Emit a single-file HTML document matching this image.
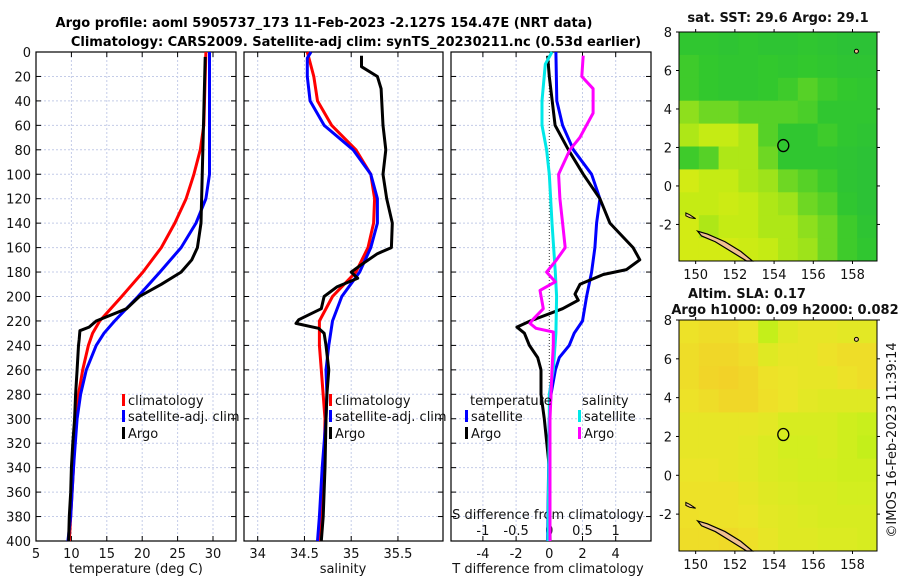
<!DOCTYPE html>
<html><head><meta charset="utf-8">
<style>
body{margin:0;background:#fff;}
svg{display:block;font-family:"DejaVu Sans","Liberation Sans",sans-serif;}
</style></head>
<body>
<svg id="fig" width="900" height="580" viewBox="0 0 900 580" xmlns="http://www.w3.org/2000/svg">
<text x="324" y="27" text-anchor="middle" font-size="13" font-weight="bold">Argo profile: aoml 5905737_173 11-Feb-2023 -2.127S 154.47E (NRT data)</text>
<text x="356" y="46" text-anchor="middle" font-size="13" font-weight="bold">Climatology: CARS2009. Satellite-adj clim: synTS_20230211.nc (0.53d earlier)</text>
<g id="g"></g>
</svg>
<script>
// ---------- data ----------
const depthTicks=[0,20,40,60,80,100,120,140,160,180,200,220,240,260,280,300,320,340,360,380,400];
const tempTicks=[5,10,15,20,25,30];
const salTicks=[34,34.5,35,35.5];
const tdiffTicks=[-4,-2,0,2,4];
const sdiffTicks=[-1,-0.5,0,0.5,1];
const sdiffLabels=["-1","-0.5","0","0.5","1"];

const climTempDepth=[0,60,80,100,120,140,160,180,200,220,230,240,260,280,300,340,380,400];
const climTemp=[29.0,28.7,28.2,27.3,26.2,24.6,22.7,20.1,17.1,14.0,13.0,12.4,11.6,11.0,10.6,10.3,9.9,9.7];
const satTempDepth=[0,100,120,140,160,180,200,220,230,240,260,280,300,340,380,400];
const satTemp=[29.5,29.5,29.0,27.6,25.5,22.5,19.4,16.1,14.6,13.5,12.1,11.3,10.8,10.3,9.9,9.5];
const argoTempDepth=[4,140,160,170,180,190,200,210,220,225,228,235,240,260,280,300,320,340,360,380,400];
const argoTemp=[28.9,28.3,27.8,27.0,25.5,22.7,19.6,17.8,13.5,12.5,11.2,11.1,11.0,10.8,10.6,10.45,10.2,10.0,9.9,9.7,9.6];

const climSalDepth=[0,20,40,60,80,100,120,140,160,180,200,220,240,260,300,340,380,400];
const climSal=[34.53,34.60,34.64,34.79,35.05,35.21,35.25,35.24,35.18,35.05,34.80,34.66,34.66,34.68,34.72,34.71,34.68,34.67];
const satSalDepth=[0,5,20,40,60,80,100,120,140,160,180,200,220,240,260,280,300,340,380,400];
const satSal=[34.57,34.53,34.53,34.56,34.71,35.02,35.21,35.28,35.28,35.21,35.09,34.90,34.80,34.76,34.73,34.74,34.73,34.69,34.66,34.64];
const argoSalDepth=[3,12,20,30,60,80,100,120,140,160,165,175,180,185,192,200,210,219,222,226,230,240,260,280,300,340,380,400];
const argoSal=[35.11,35.11,35.28,35.32,35.34,35.37,35.34,35.38,35.44,35.43,35.28,35.09,35.00,35.07,34.85,34.71,34.68,34.44,34.41,34.65,34.71,34.73,34.76,34.74,34.73,34.72,34.70,34.68];

const satTdDepth=[0,40,60,80,100,120,140,160,180,200,220,230,240,250,260,280,300,400];
const satTd=[0.4,0.45,0.8,1.45,2.55,3.05,2.85,2.75,2.55,2.25,2.0,1.5,1.2,0.6,0.37,0.1,0,-0.1];
const argoTdDepth=[3,20,60,80,100,120,140,160,170,178,182,190,198,203,210,220,225,230,240,250,260,280,300,320,340,400];
const argoTd=[-0.1,0,0.35,1.15,2.05,3.05,3.65,5.05,5.45,4.65,3.25,1.85,1.55,1.75,0.8,-1.15,-1.95,-1.5,-1.2,-0.7,-0.5,-0.5,-0.3,-0.15,0,0.05];
const satSdDepth=[0,10,40,60,80,100,140,180,200,230,260,280,300,400];
const satSd=[0.04,-0.06,-0.11,-0.11,-0.04,0,0.04,0.09,0.11,0.1,0.06,0,0,-0.02];
const argoSdDepth=[3,20,30,50,70,80,100,120,140,160,170,180,188,195,210,219,222,226,229,240,260,300,400];
const argoSd=[0.51,0.49,0.66,0.66,0.46,0.31,0.14,0.16,0.2,0.24,0.11,-0.04,0.09,-0.14,-0.09,-0.25,-0.29,-0.2,0.06,0.06,0.04,0.01,0.01];

const sstField=[
[0.8,0.8,0.85,0.8,0.85,0.85,0.8,0.85,0.9,0.9],
[0.7,0.75,0.8,0.8,0.75,0.8,0.75,0.8,0.85,0.85],
[0.7,0.75,0.8,0.8,0.75,0.7,0.6,0.7,0.75,0.8],
[0.4,0.5,0.5,0.6,0.6,0.6,0.65,0.8,0.8,0.8],
[0.3,0.2,0.2,0.3,0.6,0.8,0.8,0.7,0.8,0.85],
[0.7,0.6,0.3,0.3,0.5,0.8,0.8,0.8,0.85,0.9],
[0.1,0.2,0.2,0.3,0.35,0.5,0.6,0.7,0.85,0.9],
[0.2,0.2,0.15,0.2,0.3,0.35,0.5,0.6,0.8,0.9],
[0.1,0.3,0.2,0.2,0.3,0.3,0.4,0.5,0.7,0.85],
[0.1,0.1,0.1,0.15,0.2,0.3,0.35,0.5,0.7,0.8]];
const slaField=[
[0.3,0.2,0.2,0.35,0.8,0.5,0.4,0.4,0.45,0.45],
[0.2,0.1,0.1,0.2,0.5,0.4,0.4,0.3,0.2,0.2],
[0.2,0.05,0,0.1,0.3,0.35,0.4,0.4,0.3,0.2],
[0.3,0.2,0.1,0.1,0.25,0.35,0.45,0.5,0.5,0.5],
[0.4,0.4,0.4,0.4,0.45,0.6,0.6,0.6,0.7,0.75],
[0.4,0.4,0.4,0.45,0.55,0.65,0.65,0.6,0.7,0.8],
[0.35,0.35,0.4,0.45,0.55,0.6,0.65,0.65,0.7,0.7],
[0.3,0.3,0.3,0.4,0.5,0.55,0.6,0.6,0.65,0.65],
[0.25,0.3,0.3,0.35,0.45,0.5,0.55,0.6,0.6,0.6],
[0.2,0.2,0.15,0.25,0.4,0.5,0.5,0.55,0.55,0.6]];
const lonTicks=[150,152,154,156,158];
const latTicks=[8,6,4,2,0,-2];

// ---------- helpers ----------
const NS="http://www.w3.org/2000/svg";
const G=document.getElementById('g');
function el(tag,attrs,parent){const e=document.createElementNS(NS,tag);for(const k in attrs)e.setAttribute(k,attrs[k]);(parent||G).appendChild(e);return e;}
function txt(x,y,s,size,anchor,parent){const t=el('text',{x:x,y:y,'font-size':size,'text-anchor':anchor||'middle',fill:'#111'},parent);t.textContent=s;return t;}

const TOP=52,BOT=541;
const yD=d=>TOP+(d/400)*(BOT-TOP);
const P1={l:36,r:236},P2={l:244,r:443},P3={l:451,r:651};
const xT=t=>36+(t-5)*7.08;
const xS=s=>257.7+(s-34)*93.5;
const xTd=v=>549.3+v*16.6;
const xSd=v=>549.3+v*66.4;

function panel(P,vx,vals,name){
  const g=el('g',{});
  
  
  for(const d of depthTicks){ if(d===0||d===400)continue;
    const l=el('line',{x1:P.l,x2:P.r,y1:yD(d),y2:yD(d),stroke:'#c4cce8','stroke-width':1,'stroke-dasharray':'2,2'},g);
    }
  for(const v of vals){const x=vx(v); if(x<=P.l+1||x>=P.r-1)continue;
    const l=el('line',{x1:x,x2:x,y1:TOP,y2:BOT,stroke:'#c4cce8','stroke-width':1,'stroke-dasharray':'2,2'},g);
    }
  for(const d of depthTicks){
    el('line',{x1:P.l,x2:P.l+5,y1:yD(d),y2:yD(d),stroke:'#000'},g);
    el('line',{x1:P.r-5,x2:P.r,y1:yD(d),y2:yD(d),stroke:'#000'},g);}
  for(const v of vals){const x=vx(v); el('line',{x1:x,x2:x,y1:BOT,y2:BOT-5,stroke:'#000'},g);el('line',{x1:x,x2:x,y1:TOP,y2:TOP+5,stroke:'#000'},g);}
  const r=el('rect',{x:P.l,y:TOP,width:P.r-P.l,height:BOT-TOP,fill:'none',stroke:'#000','stroke-width':1.2},g);
  
  return g;
}
function line(depths,vals,vx,color,name){
  const pts=depths.map((d,i)=>vx(vals[i]).toFixed(1)+','+yD(d).toFixed(1)).join(' ');
  const p=el('polyline',{points:pts,fill:'none',stroke:color,'stroke-width':3,'stroke-linejoin':'round'});
  
  
}
function legend(x,y,color,label,name){
  const r=el('rect',{x:x,y:y-11,width:3,height:12,fill:color});
  
  
  const t=txt(x+6,y,label,13,'start');
  
  
}

// ---------- panel 1 temperature ----------
panel(P1,xT,tempTicks,'temperature-panel');
depthTicks.forEach(d=>{const t=txt(31,yD(d)+5,String(d),13,'end');});
tempTicks.forEach(v=>{const t=txt(xT(v),558,String(v),13);});
{const t=txt(136,573,'temperature (deg C)',13);}
line(climTempDepth,climTemp,xT,'#ff0000','clim-temp-line');
line(satTempDepth,satTemp,xT,'#0000ff','sat-temp-line');
line(argoTempDepth,argoTemp,xT,'#000000','argo-temp-line');
legend(122,405,'#ff0000','climatology','legend-climatology');
legend(122,421,'#0000ff','satellite-adj. clim','legend-satellite-adj');
legend(122,438,'#000000','Argo','legend-argo');

// ---------- panel 2 salinity ----------
panel(P2,xS,salTicks,'salinity-panel');
salTicks.forEach(v=>{const t=txt(xS(v),558,String(v),13);});
{const t=txt(343,573,'salinity',13);}
line(climSalDepth,climSal,xS,'#ff0000','clim-sal-line');
line(satSalDepth,satSal,xS,'#0000ff','sat-sal-line');
line(argoSalDepth,argoSal,xS,'#000000','argo-sal-line');
legend(329,405,'#ff0000','climatology','legend-climatology-sal');
legend(329,421,'#0000ff','satellite-adj. clim','legend-satellite-adj-sal');
legend(329,438,'#000000','Argo','legend-argo-sal');

// ---------- panel 3 differences ----------
panel(P3,xTd,tdiffTicks.filter(v=>v!==0),'difference-panel');
{const z=el('line',{x1:xTd(0),x2:xTd(0),y1:TOP,y2:BOT,stroke:'#333','stroke-width':1,'stroke-dasharray':'1,2'});}
tdiffTicks.forEach(v=>{const t=txt(xTd(v),558,String(v),13);});
sdiffTicks.forEach((v,i)=>{const t=txt(xSd(v),535,sdiffLabels[i],13);});
{const t=txt(548,573,'T difference from climatology',13);}
{const t=txt(548,519,'S difference from climatology',13);}
line(satTdDepth,satTd,xTd,'#0000ff','sat-tdiff-line');
line(argoTdDepth,argoTd,xTd,'#000000','argo-tdiff-line');
line(satSdDepth,satSd,xSd,'#00e8e8','sat-sdiff-line');
line(argoSdDepth,argoSd,xSd,'#ff00ff','argo-sdiff-line');
{const t=txt(470,405,'temperature',13,'start');}
{const t=txt(582,405,'salinity',13,'start');}
legend(465,421,'#0000ff','satellite','legend-t-satellite');
legend(465,438,'#000000','Argo','legend-t-argo');
legend(578,421,'#00e8e8','satellite','legend-s-satellite');
legend(578,438,'#ff00ff','Argo','legend-s-argo');

// ---------- maps ----------
function lerpC(stops,v){v=Math.max(0,Math.min(1,v));const n=stops.length-1;const i=Math.min(n-1,Math.floor(v*n));const f=v*n-i;const a=stops[i],b=stops[i+1];return 'rgb('+a.map((c,k)=>Math.round(c+(b[k]-c)*f)).join(',')+')';}
const sstStops=[[225,235,20],[190,235,20],[110,215,35],[50,200,45],[40,190,60]];
const slaStops=[[242,210,40],[236,228,40],[210,238,30],[175,240,20]];
function mapPanel(L,T,R,B,field,stops,name){
  const g=el('g',{});
  
  
  const lon0=149.15,lon1=159.25,lat0=8,lat1=-3.9;
  const mx=lon=>L+(lon-lon0)/(lon1-lon0)*(R-L);
  const my=lat=>T+(lat0-lat)/(lat0-lat1)*(B-T);
  const rows=field.length,cols=field[0].length,cw=(R-L)/cols,ch=(B-T)/rows;
  field.forEach((row,i)=>row.forEach((v,j)=>{
    const c=el('rect',{x:L+j*cw,y:T+i*ch,width:cw+0.5,height:ch+0.5,fill:v==null?'#fff':lerpC(stops,v)},g);
    
    
  }));
  const isl=el('polygon',{points:[[150.1,-2.35],[150.6,-2.5],[151.5,-2.9],[152.3,-3.4],[152.9,-3.9],[152.6,-3.9],[151.8,-3.4],[151.0,-2.9],[150.3,-2.6]].map(p=>mx(p[0])+','+my(p[1])).join(' '),fill:'#f0c090',stroke:'#000','stroke-width':1.2},g);
  
  const isl2=el('polygon',{points:[[149.5,-1.4],[149.7,-1.5],[150.0,-1.7],[149.7,-1.65],[149.5,-1.55]].map(p=>mx(p[0])+','+my(p[1])).join(' '),fill:'#f0c090',stroke:'#000','stroke-width':1},g);
  
  const isl3=el('circle',{cx:mx(158.2),cy:my(7),r:2,fill:'#f0c090',stroke:'#000'},g);
  
  const fl=el('ellipse',{cx:mx(154.47),cy:my(2.1),rx:5.5,ry:6,fill:'none',stroke:'#000','stroke-width':1.3},g);
  
  const fr=el('rect',{x:L,y:T,width:R-L,height:B-T,fill:'none',stroke:'#000','stroke-width':1},g);
  
  latTicks.forEach(v=>{const y=my(v);el('line',{x1:L-3,x2:L,y1:y,y2:y,stroke:'#000'},g);el('line',{x1:R,x2:R+3,y1:y,y2:y,stroke:'#000'},g);
    const t=txt(L-7,y+5,String(v),13,'end',g);});
  lonTicks.forEach(v=>{const x=mx(v);el('line',{x1:x,x2:x,y1:B,y2:B+3,stroke:'#000'},g);el('line',{x1:x,x2:x,y1:T-3,y2:T,stroke:'#000'},g);
    const t=txt(x,B+18,String(v),13,'middle',g);});
}
mapPanel(679,32,877,261,sstField,sstStops,'sst-map');
mapPanel(679,320,877,551,slaField,slaStops,'sla-map');
{const t=txt(778,22,'sat. SST: 29.6 Argo: 29.1',13);t.setAttribute('font-weight','bold');}
{const t=txt(747,298,'Altim. SLA: 0.17',13);t.setAttribute('font-weight','bold');}
{const t=txt(785,314,'Argo h1000: 0.09 h2000: 0.082',13);t.setAttribute('font-weight','bold');}
{const t=txt(0,0,'©IMOS 16-Feb-2023 11:39:14',13);t.setAttribute('transform','translate(896,440) rotate(-90)');}
</script>
</body></html>
